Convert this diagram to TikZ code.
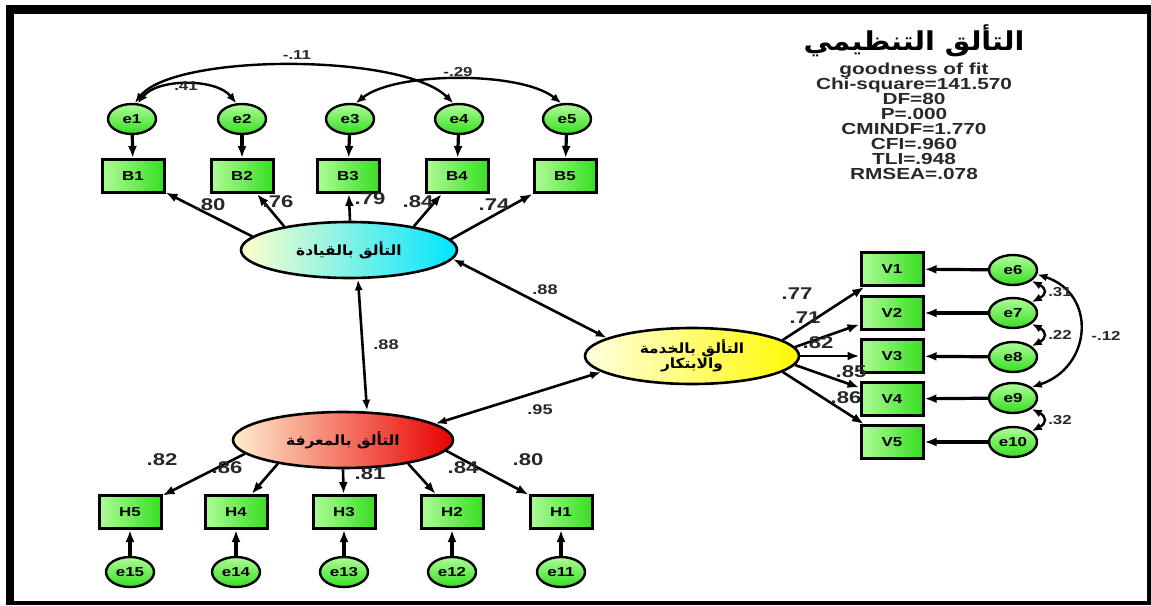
\documentclass[tikz,border=0pt]{standalone}
\usepackage{fontspec}
\setmainfont{Liberation Sans}[FakeStretch=1.3]
\newfontfamily\arabicfont[Script=Arabic,FakeStretch=1.1]{DejaVu Sans}
\TeXXeTstate=1
\usetikzlibrary{arrows.meta,shapes.geometric}
\definecolor{boxlight}{RGB}{175,252,150}
\definecolor{boxgreen}{RGB}{55,222,35}
\definecolor{leadleft}{RGB}{255,255,205}
\definecolor{leadright}{RGB}{0,228,255}
\definecolor{servleft}{RGB}{255,255,225}
\definecolor{servright}{RGB}{255,250,0}
\definecolor{knowleft}{RGB}{255,238,205}
\definecolor{knowright}{RGB}{232,0,0}
\definecolor{numgray}{RGB}{40,40,40}
\newcommand{\pxsize}[1]{\fontsize{#1}{#1}\selectfont}

\begin{document}
\begin{tikzpicture}[x=1pt, y=-1pt,
  indicator/.style={draw, line width=3pt, left color=boxlight, right color=boxgreen,
    minimum width=62pt, minimum height=33pt, inner sep=0pt, font=\bfseries\pxsize{13}},
  errcircle/.style={draw, ellipse, line width=2.4pt, top color=boxlight, bottom color=boxgreen,
    minimum width=48pt, minimum height=30pt, inner sep=0pt, font=\bfseries\pxsize{13}},
  latent/.style={draw, ellipse, line width=2.6pt, minimum width=216pt, minimum height=56pt,
    inner sep=0pt, align=center, font=\arabicfont\bfseries\pxsize{14}},
  loadarrow/.style={-{Latex[length=12pt,width=9pt]}, line width=2.6pt},
  errarrow/.style={-{Latex[length=12pt,width=9pt]}, line width=3.2pt},
  corrarrow/.style={{Latex[length=11pt,width=8pt]}-{Latex[length=11pt,width=8pt]}, line width=2.6pt},
  covar/.style={{Latex[length=10pt,width=8pt]}-{Latex[length=10pt,width=8pt]}, line width=2.4pt},
  loadlabel/.style={font=\bfseries\pxsize{17}, text=numgray},
  smalllabel/.style={font=\bfseries\pxsize{13}, text=numgray}]
\useasboundingbox (0,0) rectangle (1151,605);

% Frame
\fill[black] (6,5) rectangle (1151,605);
\fill[white] (14,14) rectangle (1147,601);

% Title and fit indices
\node[font=\arabicfont\bfseries\pxsize{26}] (title) at (914,41) {\beginR التألق التنظيمي\endR};
\node[font=\bfseries\pxsize{16}, align=center, text=numgray] (fit) at (914,121)
  {goodness of fit\\[-1pt]Chi-square=141.570\\[-1pt]DF=80\\[-1pt]P=.000\\[-1pt]CMINDF=1.770\\[-1pt]CFI=.960\\[-1pt]TLI=.948\\[-1pt]RMSEA=.078};

% Latent variables
\node[latent, left color=leadleft, right color=leadright] (lead) at (349,250) {\beginR التألق بالقيادة\endR};
\node[latent, left color=servleft, right color=servright, minimum width=214pt] (serv) at (692,356)
  {\beginR التألق بالخدمة\endR\\\beginR والابتكار\endR};
\node[latent, left color=knowleft, right color=knowright, minimum width=220pt] (know) at (343,440) {\beginR التألق بالمعرفة\endR};

% Leadership indicators
\node[indicator] (B1) at (133,176) {B1};
\node[indicator] (B2) at (242,176) {B2};
\node[indicator] (B3) at (348,176) {B3};
\node[indicator] (B4) at (457,176) {B4};
\node[indicator] (B5) at (565,176) {B5};
\node[errcircle] (e1) at (132,119) {e1};
\node[errcircle] (e2) at (242,119) {e2};
\node[errcircle] (e3) at (350,119) {e3};
\node[errcircle] (e4) at (459,119) {e4};
\node[errcircle] (e5) at (567,119) {e5};

% Service indicators
\node[indicator] (V1) at (892,269) {V1};
\node[indicator] (V2) at (892,313) {V2};
\node[indicator] (V3) at (892,356) {V3};
\node[indicator] (V4) at (892,399) {V4};
\node[indicator] (V5) at (892,442) {V5};
\node[errcircle] (e6) at (1013,270) {e6};
\node[errcircle] (e7) at (1013,313) {e7};
\node[errcircle] (e8) at (1013,357) {e8};
\node[errcircle] (e9) at (1013,398) {e9};
\node[errcircle] (e10) at (1013,442) {e10};

% Knowledge indicators
\node[indicator] (H5) at (130,512) {H5};
\node[indicator] (H4) at (236,512) {H4};
\node[indicator] (H3) at (344,512) {H3};
\node[indicator] (H2) at (452,512) {H2};
\node[indicator] (H1) at (561,512) {H1};
\node[errcircle] (e15) at (130,572) {e15};
\node[errcircle] (e14) at (236,572) {e14};
\node[errcircle] (e13) at (344,572) {e13};
\node[errcircle] (e12) at (452,572) {e12};
\node[errcircle] (e11) at (561,572) {e11};

% Error arrows
\draw[errarrow] (e1) -- (B1);
\draw[errarrow] (e2) -- (B2);
\draw[errarrow] (e3) -- (B3);
\draw[errarrow] (e4) -- (B4);
\draw[errarrow] (e5) -- (B5);
\draw[errarrow] (e6) -- (V1);
\draw[errarrow] (e7) -- (V2);
\draw[errarrow] (e8) -- (V3);
\draw[errarrow] (e9) -- (V4);
\draw[errarrow] (e10) -- (V5);
\draw[errarrow] (e15) -- (H5);
\draw[errarrow] (e14) -- (H4);
\draw[errarrow] (e13) -- (H3);
\draw[errarrow] (e12) -- (H2);
\draw[errarrow] (e11) -- (H1);

% Loadings
\draw[loadarrow] (lead.172) -- (B1);
\draw[loadarrow] (lead.160) -- (B2);
\draw[loadarrow] (lead.88) -- (B3);
\draw[loadarrow] (lead.20) -- (B4);
\draw[loadarrow] (lead.6) -- (B5);
\draw[loadarrow] (serv.10) -- (V1);
\draw[loadarrow] (serv.5) -- (V2);
\draw[loadarrow] (serv.east) -- (V3);
\draw[loadarrow] (serv.-5) -- (V4);
\draw[loadarrow] (serv.-10) -- (V5);
\draw[loadarrow] (know.188) -- (H5);
\draw[loadarrow] (know.200) -- (H4);
\draw[loadarrow] (know.-90) -- (H3);
\draw[loadarrow] (know.-20) -- (H2);
\draw[loadarrow] (know.-6) -- (H1);

\node[loadlabel] (lB1) at (210,205) {.80};
\node[loadlabel] (lB2) at (278,202) {.76};
\node[loadlabel] (lB3) at (370,199) {.79};
\node[loadlabel] (lB4) at (418,202) {.84};
\node[loadlabel] (lB5) at (494,205) {.74};
\node[loadlabel] (lV1) at (797,294) {.77};
\node[loadlabel] (lV2) at (805,318) {.71};
\node[loadlabel] (lV3) at (818,343) {.82};
\node[loadlabel] (lV4) at (851,372) {.85};
\node[loadlabel] (lV5) at (846,398) {.86};
\node[loadlabel] (lH5) at (162,460) {.82};
\node[loadlabel] (lH4) at (227,468) {.86};
\node[loadlabel] (lH3) at (370,474) {.81};
\node[loadlabel] (lH2) at (463,468) {.84};
\node[loadlabel] (lH1) at (528,460) {.80};

% Correlations between latent variables
\draw[corrarrow] ([xshift=9pt]lead.south) -- ([xshift=24pt]know.north);
\draw[corrarrow] (lead.-5) -- (serv.168);
\draw[corrarrow] (serv.190) -- (know.10);
\node[smalllabel, font=\bfseries\pxsize{14}] (c1) at (386,345) {.88};
\node[smalllabel, font=\bfseries\pxsize{14}] (c2) at (545,290) {.88};
\node[smalllabel, font=\bfseries\pxsize{14}] (c3) at (540,410) {.95};

% Error covariances
\draw[covar] (e1.70) .. controls +(20,-25) and +(-20,-25) .. (e2.110);
\draw[covar] (e1.80) .. controls +(40,-50) and +(-50,-50) .. (e4.110);
\draw[covar] (e3.70) .. controls +(40,-32) and +(-40,-32) .. (e5.110);
\draw[covar] (e6.-30) .. controls +(15,8) and +(15,-8) .. (e7.30);
\draw[covar] (e7.-30) .. controls +(15,8) and +(15,-8) .. (e8.30);
\draw[covar] (e9.-30) .. controls +(15,8) and +(15,-8) .. (e10.30);
\draw[covar] (e6.-10) .. controls +(60,20) and +(60,-20) .. (e9.30);
\node[smalllabel] (v12) at (186,86) {.41};
\node[smalllabel] (v14) at (297,55) {-.11};
\node[smalllabel] (v35) at (458,72) {-.29};
\node[smalllabel] (v67) at (1060,292) {.31};
\node[smalllabel] (v78) at (1060,335) {.22};
\node[smalllabel] (v910) at (1060,420) {.32};
\node[smalllabel] (v69) at (1106,336) {-.12};
\end{tikzpicture}
\end{document}
